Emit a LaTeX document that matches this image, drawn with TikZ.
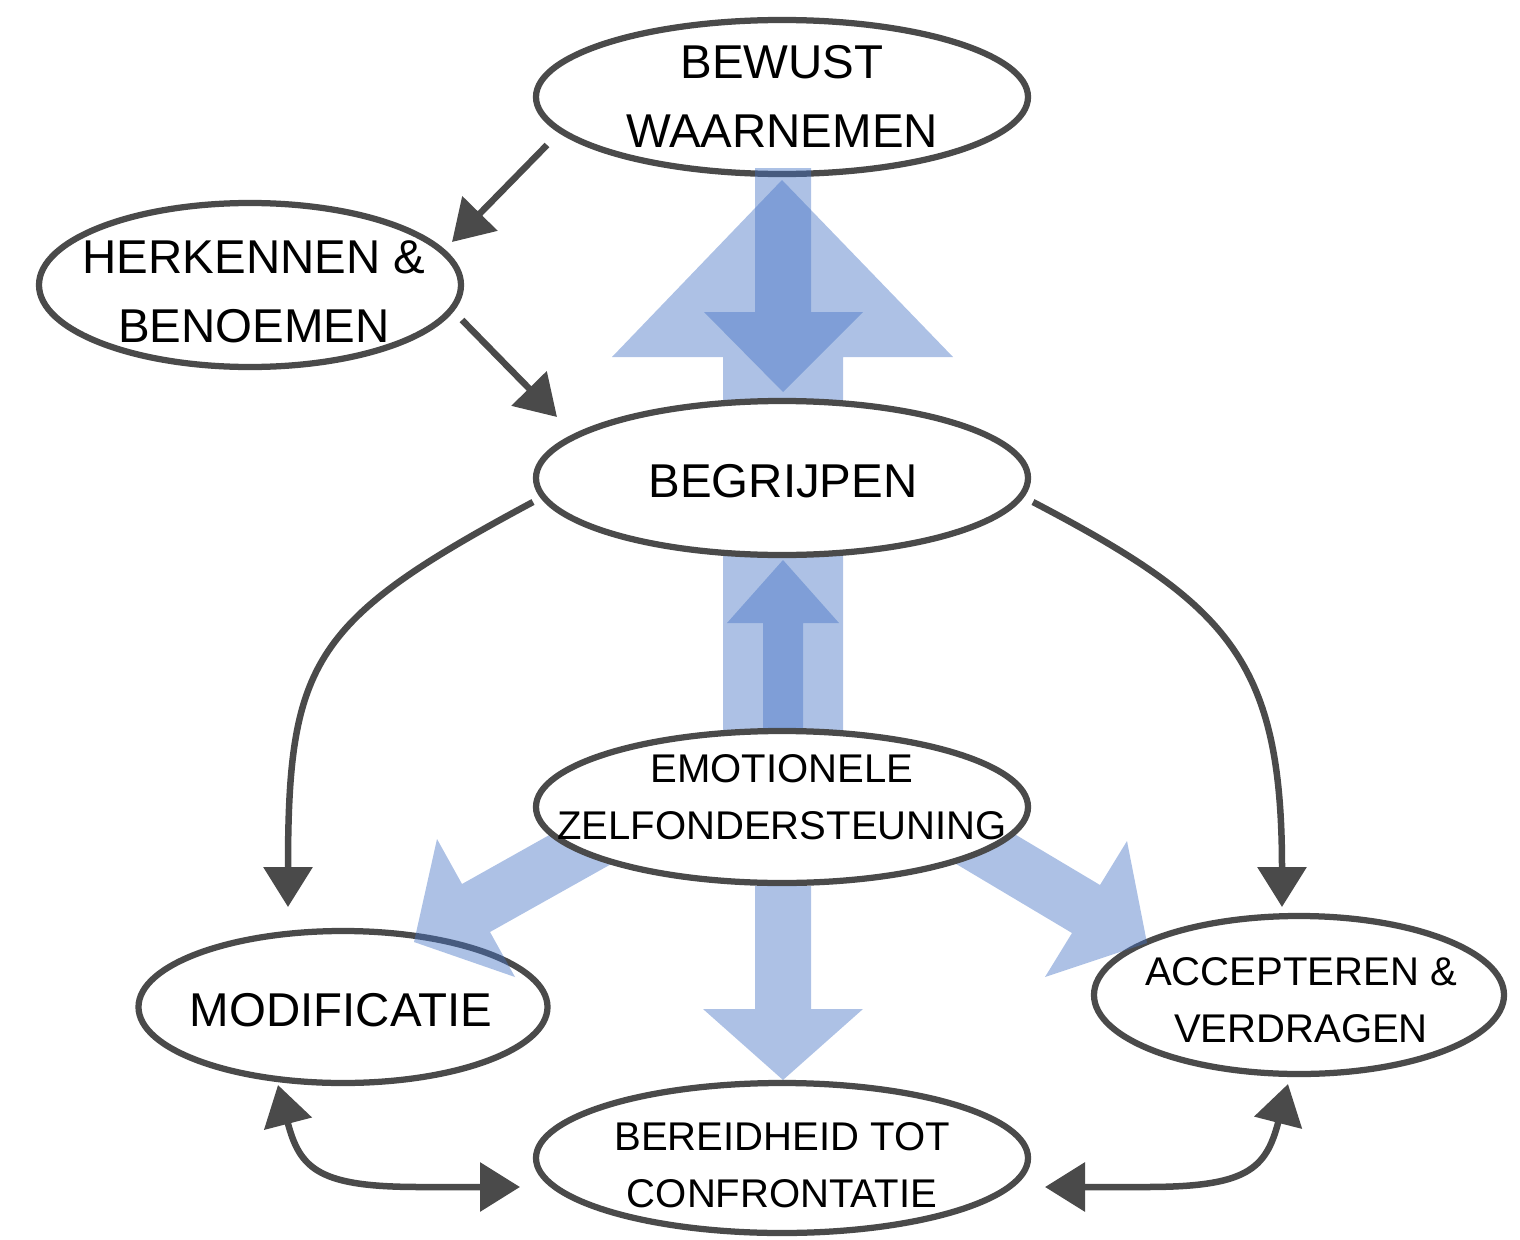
\documentclass[tikz,border=0pt]{standalone}
\usepackage{fontspec}
\setmainfont{Liberation Sans}
\usetikzlibrary{shapes.geometric,arrows.meta,calc}
\definecolor{edge}{HTML}{4A4A4A}
\definecolor{blu}{HTML}{4472C4}
\tikzset{
 ell/.style={ellipse, draw=edge, line width=1.25mm, fill=white, inner sep=0pt},
 bigtxt/.style={align=center, font=\fontsize{27pt}{39.3pt}\selectfont, inner sep=0pt},
 smltxt/.style={align=center, font=\fontsize{22.8pt}{32.4pt}\selectfont, inner sep=0pt},
 garrow/.style={draw=edge, line width=1.3mm, -{Triangle[length=8mm,width=9.6mm]}},
 garrowtwo/.style={draw=edge, line width=1.3mm, {Triangle[length=8mm,width=9.6mm]}-{Triangle[length=8mm,width=9.6mm]}},
 bluearrow/.style={fill=blu, fill opacity=0.44, draw=none},
}
\begin{document}
\begin{tikzpicture}[x=0.2mm,y=-0.2mm]
\useasboundingbox (0,0) rectangle (1520,1240);
% big up arrow (behind ellipses)
\fill[bluearrow] (723,745) -- (723,357) -- (612,357) -- (782,180) -- (953,357) -- (843,357) -- (843,745) -- cycle;
% ellipses
\node[ell, minimum width=98.4mm, minimum height=30.8mm] (bw) at (782,97) {};
\node[ell, minimum width=84.4mm, minimum height=32.8mm] (hb) at (250,285) {};
\node[ell, minimum width=98.4mm, minimum height=30.8mm] (bg) at (782,478) {};
\node[ell, minimum width=81.8mm, minimum height=30.4mm] (mo) at (343,1007) {};
\node[ell, minimum width=82mm, minimum height=31.6mm] (av) at (1299,995) {};
\node[ell, minimum width=98.4mm, minimum height=30mm] (bt) at (782,1158) {};
% diagonal arrows
\fill[bluearrow] (610,801) -- (462,884) -- (437,839) -- (414,942) -- (515,977) -- (490,932) -- (638,849) -- cycle;
\fill[bluearrow] (954,798) -- (1100,885) -- (1127,841) -- (1147,943) -- (1045,977) -- (1072,933) -- (926,846) -- cycle;
\node[ell, minimum width=98.4mm, minimum height=30.4mm] (ez) at (782,807) {};
% vertical arrows on top
\fill[bluearrow] (755,168) -- (755,312) -- (704,312) -- (783,392) -- (863,312) -- (811,312) -- (811,168) -- cycle;
\fill[bluearrow] (763,728) -- (763,623) -- (727,623) -- (783,560) -- (839,623) -- (803,623) -- (803,728) -- cycle;
\fill[bluearrow] (755,886) -- (755,1009) -- (703,1009) -- (783,1080) -- (863,1009) -- (811,1009) -- (811,886) -- cycle;
% texts
\node[bigtxt] (bwt) at (782,96) {BEWUST\\WAARNEMEN};
\node[bigtxt] (hbt) at (254,292) {HERKENNEN \&\\BENOEMEN};
\node[bigtxt] (bgt) at (783,481) {BEGRIJPEN};
\node[smltxt] (ezt) at (782,797) {EMOTIONELE\\ZELFONDERSTEUNING};
\node[bigtxt] (mot) at (341,1010) {MODIFICATIE};
\node[smltxt] (avt) at (1301,1000) {ACCEPTEREN \&\\VERDRAGEN};
\node[smltxt] (btt) at (782,1165) {BEREIDHEID TOT\\CONFRONTATIE};
% gray connectors
\draw[garrow] ($(bw.center)+(-235,48)$) -- ($(hb.center)+(202,-43)$);
\draw[garrow] ($(hb.center)+(212,35)$) -- ($(bg.center)+(-225,-61)$);
\draw[garrow] ($(bg.center)+(-249,24)$) .. controls ($(bg.center)+(-469,142)$) and ($(mo.center)+(-55,-347)$) .. ($(mo.center)+(-55,-100)$);
\draw[garrow] ($(bg.center)+(251,24)$) .. controls ($(bg.center)+(446,126)$) and ($(av.center)+(-17,-335)$) .. ($(av.center)+(-17,-88)$);
\draw[garrowtwo] ($(mo.center)+(-65,78)$) .. controls ($(mo.center)+(-43,163)$) and ($(mo.center)+(-23,180)$) .. ($(mo.center)+(77,180)$) -- ($(bt.center)+(-262,29)$);
\draw[garrowtwo] ($(bt.center)+(263,29)$) -- ($(av.center)+(-153,192)$) .. controls ($(av.center)+(-53,192)$) and ($(av.center)+(-33,175)$) .. ($(av.center)+(-11,89)$);
\end{tikzpicture}
\end{document}
